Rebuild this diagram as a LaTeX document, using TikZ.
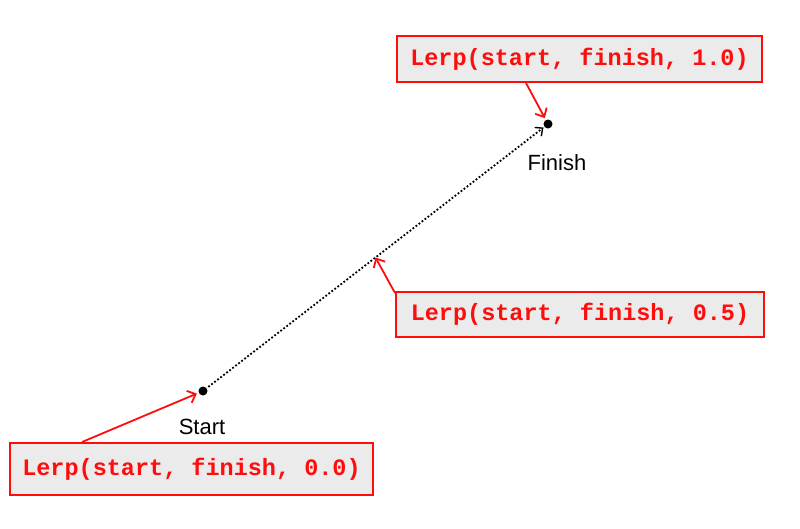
\documentclass[tikz,border=0pt]{standalone}
\usepackage{fontspec}
\setmainfont{Liberation Sans}
\newfontfamily\codefont{Liberation Mono}
\usetikzlibrary{arrows.meta,calc}
\definecolor{boxfill}{HTML}{EBEBEB}
\definecolor{lerpred}{HTML}{FF0D0D}
\tikzset{
  codebox/.style={draw=lerpred, line width=2pt, fill=boxfill, text=lerpred,
    font=\codefont\bfseries\fontsize{23.5pt}{26pt}\selectfont, inner sep=0pt},
  ptdot/.style={circle, fill=black, inner sep=0pt, minimum size=9pt},
  ptlabel/.style={font=\fontsize{22pt}{25pt}\selectfont, inner sep=0pt},
  redarrow/.style={draw=lerpred, line width=1.8pt, -{Straight Barb[length=7pt,width=13pt,line width=1.8pt]}},
  pathline/.style={draw=black, line width=1.8pt, dotted, -{Straight Barb[length=6pt,width=11pt,line width=1.4pt]}}
}
\begin{document}
\begin{tikzpicture}[x=1pt,y=-1pt]
\useasboundingbox (0,0) rectangle (800,528);
\node[ptdot] (st) at (203,391) {};
\node[ptdot] (fin) at (548,124) {};
\coordinate (mid) at ($(st)!0.5!(fin)$);
\node[ptlabel] (stl) at (202,427) {Start};
\node[ptlabel] (finl) at (557,163) {Finish};
\node[codebox, minimum width=365pt, minimum height=46pt] (topb) at (579.5,59) {Lerp(start, finish, 1.0)};
\node[codebox, minimum width=368pt, minimum height=45pt] (midb) at (580,314.5) {Lerp(start, finish, 0.5)};
\node[codebox, minimum width=363pt, minimum height=52pt] (botb) at (191.5,469) {Lerp(start, finish, 0.0)};
\draw[pathline, shorten <=2pt, shorten >=1pt] (st) -- (fin);
\draw[redarrow, shorten >=2pt] ([xshift=-53.5pt]topb.south) -- (fin);
\draw[redarrow] ([yshift=-2pt]midb.north west) -- (mid);
\draw[redarrow, shorten >=2pt] ([xshift=-109.5pt]botb.north) -- (st);
\end{tikzpicture}
\end{document}
